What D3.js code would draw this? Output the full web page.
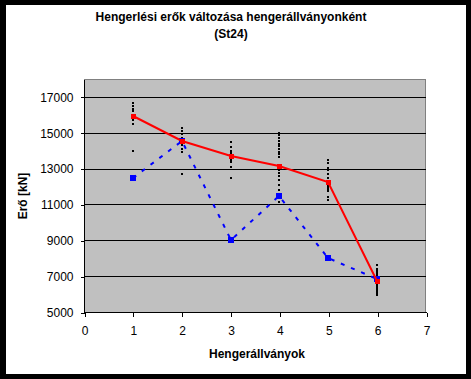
<!DOCTYPE html>
<html>
<head>
<meta charset="utf-8">
<script src="https://cdn.jsdelivr.net/npm/d3@7"></script>
<style>
  html, body { margin: 0; padding: 0; background: #fff; }
  svg { display: block; }
  text { font-family: "Liberation Sans", Arial, sans-serif; }
</style>
</head>
<body>
<script>
// ---- data ----
const titleLines = ["Hengerlési erők változása hengerállványonként", "(St24)"];
const xTitle = "Hengerállványok";
const yTitle = "Erő [kN]";
const xTicks = [0, 1, 2, 3, 4, 5, 6, 7];
const yTicks = [5000, 7000, 9000, 11000, 13000, 15000, 17000];
const stands = [1, 2, 3, 4, 5, 6];
const meanForce = [15950, 14560, 13720, 13160, 12240, 6750];      // red line
const modelForce = [12500, 14560, 9000, 11470, 8030, 6850];       // blue dashed
const measured1 = [16650, 16500, 16350, 16200, 15850, 15700, 15500, 14000];
const measured2 = [15250, 15100, 14950, 14700, 14300, 14100, 13900, 12700];
const measured3 = [14500, 14200, 14000, 13850, 13500, 13350, 13100, 12500];
const measured4 = [15000, 14850, 14700, 14550, 14400, 14250, 14100, 13950, 13800, 13650, 12900, 12750, 12600, 12350, 12100, 11800, 11150];
const measured5 = [13500, 13300, 13050, 12900, 12700, 12450, 12050, 11950, 11850, 11750, 11400, 11250];
const measured6 = [7600, 7400, 7300, 7200, 7100, 7000, 6900, 6800, 6700, 6600, 6500, 6400, 6300, 6200, 6100, 6000, 5950];
const measuredAll = [measured1, measured2, measured3, measured4, measured5, measured6];

// ---- layout ----
const W = 471, H = 379;
const plot = { left: 84, right: 426, top: 79, bottom: 312 };

const svg = d3.select("body").append("svg").attr("width", W).attr("height", H);

// outer border
svg.append("rect").attr("x", 0).attr("y", 0).attr("width", W).attr("height", H).attr("fill", "#000");
svg.append("rect").attr("x", 6).attr("y", 5).attr("width", 460).attr("height", 369).attr("fill", "#fff");

const x = d3.scaleLinear().domain([0, 7]).range([plot.left, plot.right]);
const y = d3.scaleLinear().domain([5000, 18000]).range([plot.bottom, plot.top]);
const px = v => Math.round(x(v));
const py = v => Math.round(y(v));

// plot area
svg.append("rect")
  .attr("x", plot.left).attr("y", plot.top)
  .attr("width", plot.right - plot.left).attr("height", plot.bottom - plot.top)
  .attr("fill", "#C0C0C0");
// gray top/right border
svg.append("path")
  .attr("d", `M${plot.left},${plot.top + 0.5}H${plot.right - 0.5}V${plot.bottom}`)
  .attr("fill", "none").attr("stroke", "#808080").attr("stroke-width", 1)
  .attr("shape-rendering", "crispEdges");

// gridlines
svg.append("g").attr("shape-rendering", "crispEdges")
  .selectAll("line").data(yTicks.filter(v => v > 5000)).join("line")
  .attr("x1", plot.left).attr("x2", plot.right)
  .attr("y1", d => py(d) + 0.5).attr("y2", d => py(d) + 0.5)
  .attr("stroke", "#000").attr("stroke-width", 1);

// y axis
const yAxis = d3.axisLeft(y).tickValues(yTicks).tickSize(4).tickPadding(7).tickFormat(d3.format("d"));
const gy = svg.append("g").attr("transform", `translate(${plot.left + 0.5},0.5)`)
  .attr("shape-rendering", "crispEdges").call(yAxis);
gy.select(".domain").attr("d", `M0,${plot.top}V${plot.bottom}`).attr("stroke", "#000");
gy.selectAll("text").attr("font-size", 12).attr("fill", "#000")
  .attr("font-family", "'Liberation Sans', Arial, sans-serif");

// x axis
const xAxis = d3.axisBottom(x).tickValues(xTicks).tickSize(4).tickPadding(10).tickFormat(d3.format("d"));
const gx = svg.append("g").attr("transform", `translate(0.5,${plot.bottom + 0.5})`)
  .attr("shape-rendering", "crispEdges").call(xAxis);
gx.select(".domain").attr("d", `M${plot.left},0H${plot.right}`).attr("stroke", "#000");
gx.selectAll("text").attr("font-size", 12).attr("fill", "#000")
  .attr("font-family", "'Liberation Sans', Arial, sans-serif");

// measured dots
const dots = [];
measuredAll.forEach((arr, i) => arr.forEach(v => dots.push({ s: stands[i], v })));
svg.append("g").attr("shape-rendering", "crispEdges")
  .selectAll("rect").data(dots).join("rect")
  .attr("x", d => px(d.s) - 1).attr("y", d => py(d.v) - 1)
  .attr("width", 2).attr("height", 2).attr("fill", "#000");

// blue dashed series
const blue = stands.map((s, i) => ({ s, v: modelForce[i] }));
const line = d3.line().x(d => px(d.s)).y(d => py(d.v));
svg.append("path").datum(blue).attr("d", line)
  .attr("fill", "none").attr("stroke", "#0000FF").attr("stroke-width", 2)
  .attr("stroke-dasharray", "4,7");
svg.append("g").attr("shape-rendering", "crispEdges")
  .selectAll("rect").data(blue).join("rect")
  .attr("x", d => px(d.s) - 3).attr("y", d => py(d.v) - 3)
  .attr("width", 6).attr("height", 6).attr("fill", "#0000FF");

// red series
const red = stands.map((s, i) => ({ s, v: meanForce[i] }));
svg.append("path").datum(red).attr("d", line)
  .attr("fill", "none").attr("stroke", "#FF0000").attr("stroke-width", 2);
svg.append("g").attr("shape-rendering", "crispEdges")
  .selectAll("rect").data(red).join("rect")
  .attr("x", d => px(d.s) - 2).attr("y", d => py(d.v) - 2)
  .attr("width", 5).attr("height", 5).attr("fill", "#FF0000");

// titles
svg.append("text").attr("x", 231).attr("y", 21).attr("text-anchor", "middle")
  .attr("font-size", 12).attr("font-weight", "bold").text(titleLines[0]);
svg.append("text").attr("x", 231).attr("y", 37.5).attr("text-anchor", "middle")
  .attr("font-size", 12).attr("font-weight", "bold").text(titleLines[1]);
svg.append("text").attr("x", 257).attr("y", 358).attr("text-anchor", "middle")
  .attr("font-size", 12).attr("font-weight", "bold").text(xTitle);
svg.append("text").attr("transform", `translate(27,196) rotate(-90)`).attr("text-anchor", "middle")
  .attr("font-size", 12).attr("font-weight", "bold").text(yTitle);
</script>
</body>
</html>
